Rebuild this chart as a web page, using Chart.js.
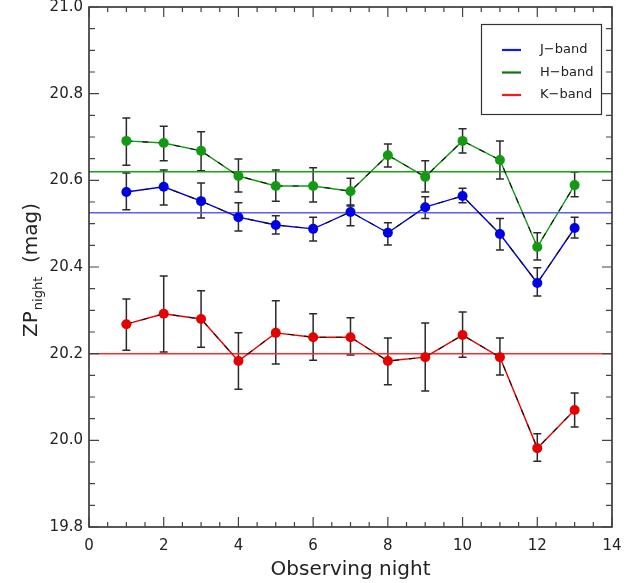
<!DOCTYPE html>
<html><head><meta charset="utf-8">
<script src="https://cdn.jsdelivr.net/npm/chart.js@4"></script>
<style>html,body{margin:0;padding:0;background:#fff}#wrap{width:639px;height:583px}</style>
</head><body><div id="wrap"><canvas id="c" width="639" height="583"></canvas></div>
<script>
const nights = [1,2,3,4,5,6,7,8,9,10,11,12,13];
const jZP = [20.573,20.585,20.552,20.515,20.497,20.488,20.527,20.479,20.538,20.564,20.476,20.363,20.490];
const jHi = [20.617,20.624,20.594,20.548,20.518,20.515,20.543,20.502,20.562,20.582,20.512,20.398,20.515];
const jLo = [20.532,20.543,20.513,20.483,20.476,20.460,20.495,20.451,20.512,20.548,20.439,20.333,20.467];
const hZP = [20.691,20.686,20.668,20.610,20.587,20.587,20.575,20.658,20.608,20.691,20.647,20.446,20.589];
const hHi = [20.744,20.725,20.712,20.649,20.624,20.629,20.605,20.684,20.645,20.719,20.691,20.479,20.619];
const hLo = [20.635,20.645,20.622,20.573,20.552,20.550,20.541,20.631,20.573,20.663,20.603,20.416,20.562];
const kZP = [20.268,20.292,20.280,20.183,20.248,20.238,20.238,20.183,20.192,20.243,20.192,19.982,20.070];
const kHi = [20.326,20.379,20.345,20.248,20.322,20.292,20.283,20.236,20.271,20.296,20.236,20.015,20.109];
const kLo = [20.208,20.204,20.215,20.118,20.176,20.185,20.197,20.128,20.114,20.192,20.151,19.952,20.031];
const means = {J:20.525, H:20.620, K:20.200};
const bandNames = ['J\u2212band','H\u2212band','K\u2212band'];
const xTicks = [0,2,4,6,8,10,12,14];
const yTicks = [19.8,20.0,20.2,20.4,20.6,20.8,21.0];

const pts = (ys) => nights.map((n,i)=>({x:n,y:ys[i]}));
const meanLine = (v) => [{x:0,y:v},{x:14,y:v}];

const cols = {J:'#0000e6', H:'#139a13', K:'#e60000'};
const meanCols = {J:'#5c5cff', H:'#16a316', K:'#ff2a2a'};
const legCols = ['#1515ff','#0a760a','#ff1515'];
const FONT = '"DejaVu Sans"';

function seriesSets(ys, col){
  return [
    {data:pts(ys), borderColor:col, borderWidth:1.4, pointRadius:0, showLine:true, order:3},
    {data:pts(ys), borderColor:'#111', borderWidth:1.1, borderDash:[6,10], pointRadius:5, pointHoverRadius:5,
     pointBackgroundColor:col, pointBorderColor:col, pointBorderWidth:0, showLine:true, order:1}
  ];
}

const errPlugin = {
  id:'err',
  beforeDatasetsDraw(chart){
    const ctx = chart.ctx, xs = chart.scales.x, ys = chart.scales.y;
    const groups = [[jLo,jHi],[hLo,hHi],[kLo,kHi]];
    ctx.save();
    ctx.strokeStyle = '#2a2a2a'; ctx.lineWidth = 1.5;
    groups.forEach(([lo,hi])=>{
      nights.forEach((n,i)=>{
        const px = xs.getPixelForValue(n);
        const y1 = ys.getPixelForValue(lo[i]), y2 = ys.getPixelForValue(hi[i]);
        ctx.beginPath();
        ctx.moveTo(px,y1); ctx.lineTo(px,y2);
        ctx.moveTo(px-4,y1); ctx.lineTo(px+4,y1);
        ctx.moveTo(px-4,y2); ctx.lineTo(px+4,y2);
        ctx.stroke();
      });
    });
    ctx.restore();
  },
  afterDraw(chart){
    const ctx = chart.ctx, xs = chart.scales.x, ys = chart.scales.y, a = chart.chartArea;
    ctx.save();
    ctx.strokeStyle = '#222'; ctx.lineWidth = 1.5;
    ctx.strokeRect(a.left, a.top, a.right-a.left, a.bottom-a.top);
    ctx.lineWidth = 1.2; ctx.strokeStyle='#444';
    ctx.beginPath();
    for (let k=0;k<=24;k++){
      const vv = 19.8 + k*0.05;
      const major = (k%4)===0;
      const L = major?10:6;
      const py = ys.getPixelForValue(vv);
      ctx.moveTo(a.left,py); ctx.lineTo(a.left+L,py);
      ctx.moveTo(a.right,py); ctx.lineTo(a.right-L,py);
    }
    for (let k=0;k<=28;k++){
      const vv = k*0.5;
      const major = (k%4)===0;
      const L = major?10:5;
      const px = xs.getPixelForValue(vv);
      ctx.moveTo(px,a.bottom); ctx.lineTo(px,a.bottom-L);
      ctx.moveTo(px,a.top); ctx.lineTo(px,a.top+L);
    }
    ctx.stroke();
    // titles
    ctx.fillStyle = '#222';
    ctx.font = '20px ' + FONT;
    ctx.textAlign = 'center'; ctx.textBaseline = 'alphabetic';
    ctx.fillText('Observing night', (a.left+a.right)/2, 575);
    ctx.translate(37, 270);
    ctx.rotate(-Math.PI/2);
    ctx.textAlign = 'left';
    const p1 = 'ZP', p2 = 'night', p3 = '  (mag)';
    ctx.font = '20px ' + FONT; const w1 = ctx.measureText(p1).width; const w3 = ctx.measureText(p3).width;
    ctx.font = '13px ' + FONT; const w2 = ctx.measureText(p2).width;
    let x0 = -(w1+w2+w3+2)/2;
    ctx.font = '20px ' + FONT; ctx.fillText(p1, x0, 0);
    ctx.font = '13px ' + FONT; ctx.fillText(p2, x0+w1+1, 5);
    ctx.font = '20px ' + FONT; ctx.fillText(p3, x0+w1+w2+2, 0);
    ctx.restore();
    // legend
    ctx.save();
    ctx.strokeStyle = '#333'; ctx.lineWidth = 1.2;
    ctx.strokeRect(481.5, 24.5, 120, 90);
    ctx.font = '13px ' + FONT; ctx.textBaseline='middle'; ctx.fillStyle='#222';
    bandNames.forEach((t,i)=>{
      const y = 50 + i*22.5;
      ctx.strokeStyle = legCols[i]; ctx.lineWidth = 2.2;
      ctx.beginPath(); ctx.moveTo(502,y); ctx.lineTo(521,y); ctx.stroke();
      ctx.fillText(t, 540, y);
    });
    ctx.restore();
  }
};

new Chart(document.getElementById('c'), {
  type:'scatter',
  data:{datasets:[
    {data:meanLine(means.J), borderColor:meanCols.J, borderWidth:1.5, pointRadius:0, showLine:true, order:5},
    {data:meanLine(means.H), borderColor:meanCols.H, borderWidth:1.5, pointRadius:0, showLine:true, order:5},
    {data:meanLine(means.K), borderColor:meanCols.K, borderWidth:1.5, pointRadius:0, showLine:true, order:5},
    ...seriesSets(jZP, cols.J), ...seriesSets(hZP, cols.H), ...seriesSets(kZP, cols.K)
  ]},
  options:{
    responsive:false, animation:false, events:[],
    layout:{padding:{top:7,right:27,left:0,bottom:0}},
    plugins:{legend:{display:false}, tooltip:{enabled:false}},
    scales:{
      x:{type:'linear', min:0, max:14,
        afterBuildTicks(s){ s.ticks = xTicks.map(v=>({value:v})); },
        afterFit(s){ s.height = 56; s.paddingLeft = 0; s.paddingRight = 0; },
        grid:{display:false, drawTicks:false}, border:{display:false},
        ticks:{padding:10, color:'#222', font:{size:15, family:'DejaVu Sans'}, callback:v=>String(v)}},
      y:{type:'linear', min:19.8, max:21.0,
        afterBuildTicks(s){ s.ticks = yTicks.map(v=>({value:v})); },
        afterFit(s){ s.width = 89; s.paddingTop = 0; s.paddingBottom = 0; },
        grid:{display:false, drawTicks:false}, border:{display:false},
        ticks:{padding:6, color:'#222', font:{size:15, family:'DejaVu Sans'}, callback:v=>Number(v).toFixed(1)}}
    }
  },
  plugins:[errPlugin]
});
</script></body></html>
